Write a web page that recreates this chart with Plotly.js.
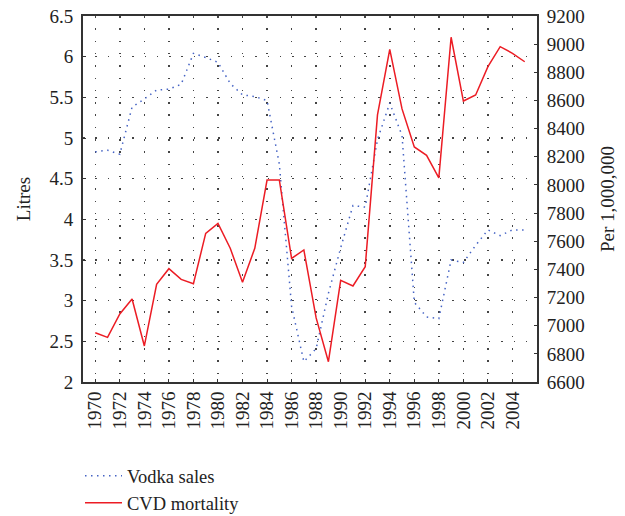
<!DOCTYPE html>
<html>
<head>
<meta charset="utf-8">
<script src="https://cdn.plot.ly/plotly-3.0.1.min.js"></script>
<style>html,body{margin:0;padding:0;background:#fff;}</style>
</head>
<body>
<div id="chart" style="width:625px;height:516px;"></div>
<script>
var years = [1970,1971,1972,1973,1974,1975,1976,1977,1978,1979,1980,1981,1982,1983,1984,1985,1986,1987,1988,1989,1990,1991,1992,1993,1994,1995,1996,1997,1998,1999,2000,2001,2002,2003,2004,2005];
var vodkaSales = [4.83,4.85,4.80,5.38,5.48,5.59,5.60,5.66,6.04,5.99,5.93,5.67,5.53,5.51,5.46,4.68,2.93,2.25,2.41,3.09,3.65,4.17,4.15,4.98,5.43,5.03,2.98,2.80,2.78,3.50,3.47,3.68,3.87,3.80,3.87,3.87];
var cvdMortality = [6950,6917,7083,7190,6856,7294,7405,7329,7298,7656,7727,7550,7308,7550,8035,8035,7478,7538,7055,6744,7322,7282,7419,8497,8963,8540,8270,8210,8050,9049,8596,8639,8840,8982,8935,8875];
var xTicks = [1970,1972,1974,1976,1978,1980,1982,1984,1986,1988,1990,1992,1994,1996,1998,2000,2002,2004];
var leftTicks = [2,2.5,3,3.5,4,4.5,5,5.5,6,6.5];
var rightTicks = [6600,6800,7000,7200,7400,7600,7800,8000,8200,8400,8600,8800,9000,9200];

var FONT = "'Liberation Serif', 'DejaVu Serif', serif";
var traces = [
  {x: years, y: vodkaSales, name: 'Vodka sales', type: 'scatter', mode: 'lines',
   line: {color: '#4563c4', width: 1.5, dash: '1.5px,4.5px'}, yaxis: 'y'},
  {x: years, y: cvdMortality, name: 'CVD mortality', type: 'scatter', mode: 'lines',
   line: {color: '#ec1c24', width: 1.5}, yaxis: 'y2'}
];
var layout = {
  width: 625, height: 516,
  margin: {l: 83, r: 88, t: 16, b: 134, pad: 0},
  paper_bgcolor: '#fff', plot_bgcolor: '#fff',
  font: {family: FONT, size: 19, color: '#222'},
  showlegend: true,
  legend: {orientation: 'h', xref: 'container', yref: 'container', x: 0.128, xanchor: 'left',
           y: 0.114, yanchor: 'top', entrywidth: 400, entrywidthmode: 'pixels',
           bgcolor: 'rgba(0,0,0,0)', itemwidth: 37,
           font: {family: FONT, size: 18.5, color: '#222'}, tracegroupgap: 0},
  xaxis: {range: [1969, 2006], tickvals: xTicks, ticktext: xTicks.map(String), tickangle: -90,
          showline: true, linecolor: '#333', linewidth: 2, mirror: true,
          ticks: 'inside', ticklen: 3, tickcolor: '#333', automargin: false,
          showgrid: true, gridcolor: '#444', gridwidth: 1.5, griddash: '1.5px,10.8px',
          zeroline: false, tickfont: {family: FONT, size: 19}},
  yaxis: {range: [2, 6.5], tickvals: leftTicks, automargin: false, ticklabelstandoff: 4,
          title: {text: 'Litres', standoff: 14, font: {family: FONT, size: 19}},
          showline: true, linecolor: '#333', linewidth: 2,
          ticks: 'inside', ticklen: 3, tickcolor: '#333',
          showgrid: true, gridcolor: '#444', gridwidth: 1.5, griddash: '1.5px,10.8px',
          zeroline: false, tickfont: {family: FONT, size: 19}},
  yaxis2: {range: [6600, 9200], tickvals: rightTicks, overlaying: 'y', side: 'right', automargin: false,
           title: {text: 'Per 1,000,000', standoff: 17, font: {family: FONT, size: 19}},
           showline: true, linecolor: '#333', linewidth: 2,
           ticks: 'inside', ticklen: 3, tickcolor: '#333', ticklabelstandoff: 4,
           showgrid: false, zeroline: false, tickfont: {family: FONT, size: 19}}
};
Plotly.newPlot('chart', traces, layout, {displayModeBar: false, staticPlot: true});
</script>
</body>
</html>
